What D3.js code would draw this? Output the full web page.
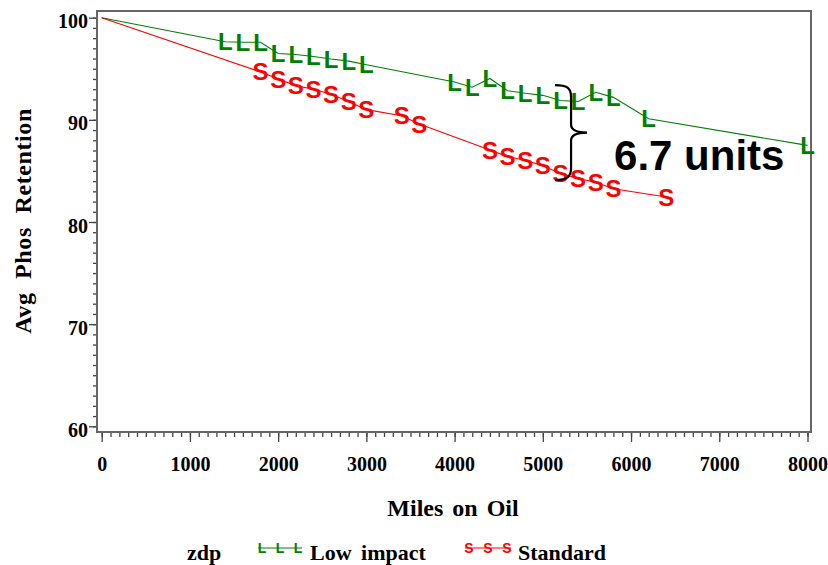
<!DOCTYPE html>
<html>
<head>
<meta charset="utf-8">
<script src="https://cdn.jsdelivr.net/npm/d3@7"></script>
<style>
    body { margin: 0; background: #fff; }
    svg { display: block; }
    .serif { font-family: "Liberation Serif", "Times New Roman", serif; font-weight: bold; fill: #000; }
    .marker { font-family: "Liberation Sans", Arial, sans-serif; font-weight: bold; }
</style>
</head>
<body>
<svg id="chart" width="828" height="565"></svg>
<script>
// miles on oil / avg phos retention
const lowMiles = [0, 1400, 1600, 1800, 2000, 2200, 2400, 2600, 2800, 3000, 4000, 4200, 4400, 4600, 4800, 5000, 5200, 5400, 5600, 5800, 6200, 8000]
const lowPhos  = [100, 97.65, 97.6, 97.6, 96.5, 96.4, 96.2, 95.95, 95.75, 95.4, 93.7, 93.2, 94.05, 92.85, 92.6, 92.4, 91.9, 91.8, 92.7, 92.2, 90.1, 87.5]

const stdMiles = [0, 1800, 2000, 2200, 2400, 2600, 2800, 3000, 3400, 3600, 4400, 4600, 4800, 5000, 5200, 5400, 5600, 5800, 6400]
const stdPhos  = [100, 94.7, 94.0, 93.35, 93.0, 92.5, 91.8, 91.0, 90.4, 89.6, 87.05, 86.4, 86.05, 85.5, 84.75, 84.25, 83.9, 83.25, 82.45]

const seriesNames   = ['Low impact', 'Standard']
const seriesSymbols = ['L', 'S']
const seriesColors  = ['#008000', '#ff0000']

const xMajorTicks = [0, 1000, 2000, 3000, 4000, 5000, 6000, 7000, 8000]
const yMajorTicks = [60, 70, 80, 90, 100]

// difference annotation
const braceMiles  = 5320
const braceTop    = 93.4
const braceBottom = 84.1
const braceLabel  = '6.7 units'

const svg = d3.select('#chart')

const frame = { left: 97, right: 811, top: 11, bottom: 432 }

const x = d3.scaleLinear().domain([0, 8000]).range([101.7, 807.5])
const y = d3.scaleLinear().domain([60, 100]).range([426.3, 17.7])

const series = [
    { name: seriesNames[0], sym: seriesSymbols[0], color: seriesColors[0],
      values: lowMiles.map((m, i) => ({ m: m, v: lowPhos[i] })) },
    { name: seriesNames[1], sym: seriesSymbols[1], color: seriesColors[1],
      values: stdMiles.map((m, i) => ({ m: m, v: stdPhos[i] })) }
]

// axes: minor ticks first, then major with labels
const xMinor = d3.axisBottom(x).tickValues(d3.range(0, 8001, 100)).tickSize(5).tickFormat('')
const xMajor = d3.axisBottom(x).tickValues(xMajorTicks).tickSize(10).tickPadding(15).tickFormat(d3.format('d'))
const yMinor = d3.axisLeft(y).tickValues(d3.range(60, 101, 1)).tickSize(4).tickFormat('')
const yMajor = d3.axisLeft(y).tickValues(yMajorTicks).tickSize(8).tickPadding(1).tickFormat(d3.format('d'))

function styleAxis(g) {
    g.select('.domain').remove()
    g.selectAll('line').attr('stroke', '#444').attr('stroke-width', 1.3)
    g.selectAll('text')
        .attr('class', 'serif')
        .attr('font-size', 20)
        .attr('fill', '#000')
}

svg.append('g').attr('transform', `translate(0,${frame.bottom})`).call(xMinor).call(styleAxis)
svg.append('g').attr('transform', `translate(0,${frame.bottom})`).call(xMajor).call(styleAxis)
svg.append('g').attr('transform', `translate(${frame.left},0)`).call(yMinor).call(styleAxis)
svg.append('g').attr('transform', `translate(${frame.left},0)`).call(yMajor).call(styleAxis)
    .selectAll('text').attr('dy', '0.5em')

svg.append('rect')
    .attr('x', frame.left)
    .attr('y', frame.top)
    .attr('width', frame.right - frame.left)
    .attr('height', frame.bottom - frame.top)
    .attr('fill', 'none')
    .attr('stroke', '#666')
    .attr('stroke-width', 2)

// lines
const line = d3.line().x((d) => x(d.m)).y((d) => y(d.v))

svg.selectAll('.series__line')
    .data(series)
    .enter()
    .append('path')
    .attr('class', 'series__line')
    .attr('d', (d) => line(d.values))
    .attr('fill', 'none')
    .attr('stroke', (d) => d.color)
    .attr('stroke-width', 1.1)

// letter markers, centred on the point (origin has none)
const markerSize = 24
series.forEach((s) => {
    svg.selectAll(null)
        .data(s.values.filter((d) => d.m > 0))
        .enter()
        .append('text')
        .attr('class', 'marker')
        .attr('x', (d) => x(d.m))
        .attr('y', (d) => y(d.v) + markerSize * 0.358)
        .attr('text-anchor', 'middle')
        .attr('font-size', markerSize)
        .attr('fill', s.color)
        .text(s.sym)
})

// brace + label
const bx = x(braceMiles)
const bt = y(braceTop)
const bb = y(braceBottom)
const bm = (bt + bb) / 2
svg.append('path')
    .attr('d', `M${bx - 16},${bt} C${bx - 4},${bt} ${bx},${bt + 3} ${bx},${bt + 12}
        L${bx},${bm - 8} C${bx},${bm - 2} ${bx + 6},${bm} ${bx + 16},${bm}
        C${bx + 6},${bm} ${bx},${bm + 2} ${bx},${bm + 8}
        L${bx},${bb - 12} C${bx},${bb - 3} ${bx - 4},${bb} ${bx - 16},${bb}`)
    .attr('fill', 'none')
    .attr('stroke', '#000')
    .attr('stroke-width', 2.2)

svg.append('text')
    .attr('class', 'marker')
    .attr('x', bx + 43)
    .attr('y', bm + 37)
    .attr('font-size', 42)
    .attr('fill', '#000')
    .text(braceLabel)

// axis titles
svg.append('text')
    .attr('class', 'serif')
    .attr('x', 453)
    .attr('y', 516)
    .attr('text-anchor', 'middle')
    .attr('font-size', 24)
    .attr('word-spacing', 3)
    .text('Miles on Oil')

svg.append('text')
    .attr('class', 'serif')
    .attr('transform', 'translate(31,221) rotate(-90)')
    .attr('text-anchor', 'middle')
    .attr('font-size', 24)
    .attr('letter-spacing', 0.6)
    .attr('word-spacing', 7)
    .text('Avg Phos Retention')

// legend
const legend = svg.append('g').attr('transform', 'translate(0,560)')
legend.append('text')
    .attr('class', 'serif')
    .attr('x', 187)
    .attr('font-size', 22)
    .text('zdp')

const legendItems = [
    { x0: 258, x1: 302, tx: 310 },
    { x0: 465, x1: 511, tx: 518 }
]
legendItems.forEach((p, i) => {
    const s = series[i]
    const g = legend.append('g')
    g.append('line')
        .attr('x1', p.x0).attr('x2', p.x1)
        .attr('y1', -12).attr('y2', -12)
        .attr('stroke', s.color)
        .attr('stroke-width', 1.2)
    const step = (p.x1 - p.x0 - 8) / 2
    g.selectAll(null)
        .data([0, 1, 2])
        .enter()
        .append('text')
        .attr('class', 'marker')
        .attr('x', (k) => p.x0 + 4 + k * step)
        .attr('y', -12 + 14 * 0.358)
        .attr('text-anchor', 'middle')
        .attr('font-size', 14)
        .attr('fill', s.color)
        .text(s.sym)
    g.append('text')
        .attr('class', 'serif')
        .attr('x', p.tx)
        .attr('font-size', 22)
        .attr('word-spacing', 4)
        .text(s.name)
})
</script>
</body>
</html>
